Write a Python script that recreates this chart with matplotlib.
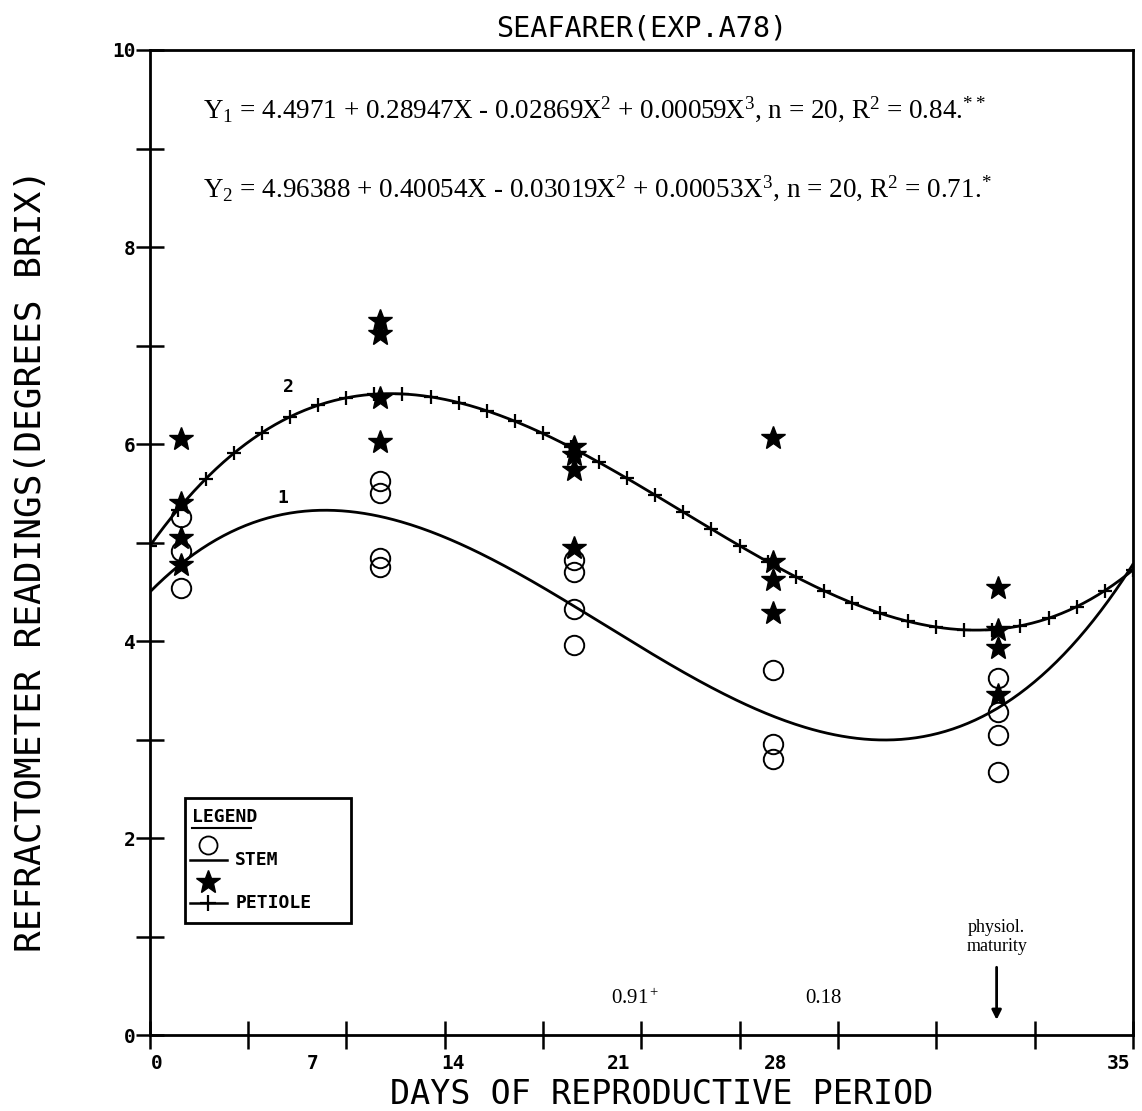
import matplotlib
matplotlib.use("Agg")
import matplotlib.pyplot as plt
import numpy as np
from matplotlib.patches import Rectangle
from matplotlib.lines import Line2D

# sampling days (x positions of the observation columns)
days = [1.1, 8.2, 15.1, 22.2, 30.2]

# stem readings (circles), per sampling day
stem_vals = [
    [5.26, 4.92, 4.54],
    [5.63, 5.50, 4.85, 4.75],
    [4.82, 4.70, 4.33, 3.96],
    [3.71, 2.96, 2.81],
    [3.63, 3.28, 3.05, 2.67],
]

# petiole readings (stars), per sampling day
petiole_vals = [
    [6.05, 5.40, 5.05, 4.77],
    [7.25, 7.12, 6.47, 6.02],
    [5.97, 5.89, 5.74, 4.95],
    [6.06, 4.80, 4.62, 4.29],
    [4.54, 4.11, 3.93, 3.45],
]

# regression coefficients (const, X, X^2, X^3) printed on the chart
stem_coef = [4.4971, 0.28947, -0.02869, 0.00059]
petiole_coef = [4.96388, 0.40054, -0.03019, 0.00053]

x_tick_labels = ["0", "7", "14", "21", "28", "35"]
x_label_pos = [0.25, 5.8, 10.8, 16.7, 22.3, 34.5]   # where the labels sit in the original
y_tick_labels = ["0", "2", "4", "6", "8", "10"]

PLOT_FONT = "DejaVu Sans Mono"
TYPE_FONT = "Liberation Serif"

plt.rcParams["mathtext.fontset"] = "custom"
plt.rcParams["mathtext.rm"] = TYPE_FONT
plt.rcParams["mathtext.it"] = TYPE_FONT

fig = plt.figure(figsize=(11.42, 11.11), dpi=100)
ax = fig.add_axes([0.131, 0.068, 0.861, 0.887])
ax.set_xlim(0, 35)
ax.set_ylim(0, 10)

# fitted curves
xx = np.linspace(0, 35, 400)
y1 = np.polyval(stem_coef[::-1], xx)
y2 = np.polyval(petiole_coef[::-1], xx)
ax.plot(xx, y1, color="black", lw=2.0)
ax.plot(xx, y2, color="black", lw=2.0)
xi = np.arange(0, 36)
ax.plot(xi, np.polyval(petiole_coef[::-1], xi), ls="none", marker="+",
        ms=10, mew=1.6, color="black")

# observations
for d, vals in zip(days, stem_vals):
    ax.plot([d] * len(vals), vals, ls="none", marker="o", ms=14,
            mfc="none", mec="black", mew=1.4)
for d, vals in zip(days, petiole_vals):
    ax.plot([d] * len(vals), vals, ls="none", marker="*", ms=18,
            color="black")

# curve numbers
ax.text(4.75, 5.45, "1", fontsize=13, fontweight="bold", family=PLOT_FONT,
        ha="center", va="center")
ax.text(4.95, 6.58, "2", fontsize=13, fontweight="bold", family=PLOT_FONT,
        ha="center", va="center")

# equations
ax.text(1.9, 9.4, r"Y$_1$ = 4.4971 + 0.28947X - 0.02869X$^2$ + 0.00059X$^3$, n = 20, R$^2$ = 0.84.$^{**}$",
        fontsize=19.5, family=TYPE_FONT, va="center", ha="left")
ax.text(1.9, 8.6, r"Y$_2$ = 4.96388 + 0.40054X - 0.03019X$^2$ + 0.00053X$^3$, n = 20, R$^2$ = 0.71.$^{*}$",
        fontsize=19.5, family=TYPE_FONT, va="center", ha="left")

# bottom annotations
ax.text(17.3, 0.37, "0.91$^+$", fontsize=15, family=TYPE_FONT, ha="center", va="center")
ax.text(24.0, 0.37, "0.18", fontsize=15, family=TYPE_FONT, ha="center", va="center")
ax.text(30.15, 1.0, "physiol.\nmaturity", fontsize=13, family=TYPE_FONT,
        ha="center", va="center", linespacing=1.2)
ax.annotate("", xy=(30.15, 0.13), xytext=(30.15, 0.72),
            arrowprops=dict(arrowstyle="-|>", color="black", lw=2,
                            mutation_scale=14))

# legend box drawn by hand
lg = dict(transform=ax.transAxes, clip_on=False)
ax.add_patch(Rectangle((0.036, 0.114), 0.169, 0.127, fill=False, lw=2, **lg))
ax.text(0.043, 0.222, "LEGEND", fontsize=13, fontweight="bold",
        family=PLOT_FONT, va="center", transform=ax.transAxes)
ax.add_line(Line2D([0.043, 0.103], [0.211, 0.211], color="black", lw=1.5, **lg))
ax.add_line(Line2D([0.041, 0.079], [0.178, 0.178], color="black", lw=1.8, **lg))
ax.add_line(Line2D([0.059], [0.193], marker="o", ms=13, mfc="none",
                   mec="black", mew=1.3, ls="none", **lg))
ax.text(0.087, 0.178, "STEM", fontsize=13, fontweight="bold",
        family=PLOT_FONT, va="center", transform=ax.transAxes)
ax.add_line(Line2D([0.041, 0.079], [0.134, 0.134], color="black", lw=1.8, **lg))
ax.add_line(Line2D([0.059], [0.134], marker="+", ms=11, mew=1.6,
                   color="black", ls="none", **lg))
ax.add_line(Line2D([0.059], [0.156], marker="*", ms=18, color="black",
                   ls="none", **lg))
ax.text(0.087, 0.134, "PETIOLE", fontsize=13, fontweight="bold",
        family=PLOT_FONT, va="center", transform=ax.transAxes)

# axes styling
for s in ax.spines.values():
    s.set_linewidth(2)
ax.set_xticks(x_label_pos)
ax.set_xticklabels(x_tick_labels, fontsize=14, fontweight="bold", family=PLOT_FONT)
ax.set_xticks(np.arange(0, 35.01, 3.5), minor=True)
ax.tick_params(axis="x", which="major", length=0, pad=13)
ax.tick_params(axis="x", which="minor", length=20, width=1.8, direction="inout")
ax.set_yticks(np.arange(0, 10.01, 2))
ax.set_yticklabels(y_tick_labels, fontsize=14, fontweight="bold", family=PLOT_FONT)
ax.set_yticks(np.arange(1, 10, 2), minor=True)
ax.tick_params(axis="y", which="both", length=20, width=1.8, direction="inout", pad=0)

ax.set_xlabel("DAYS OF REPRODUCTIVE PERIOD", fontsize=24, family=PLOT_FONT, va="center")
ax.xaxis.set_label_coords(0.521, -0.060)
ax.set_ylabel("REFRACTOMETER READINGS(DEGREES BRIX)", fontsize=26, family=PLOT_FONT, va="center")
ax.yaxis.set_label_coords(-0.121, 0.482)
ax.set_title("SEAFARER(EXP.A78)", fontsize=20.5, family=PLOT_FONT, pad=10)

fig.savefig("out.png", dpi=100)
